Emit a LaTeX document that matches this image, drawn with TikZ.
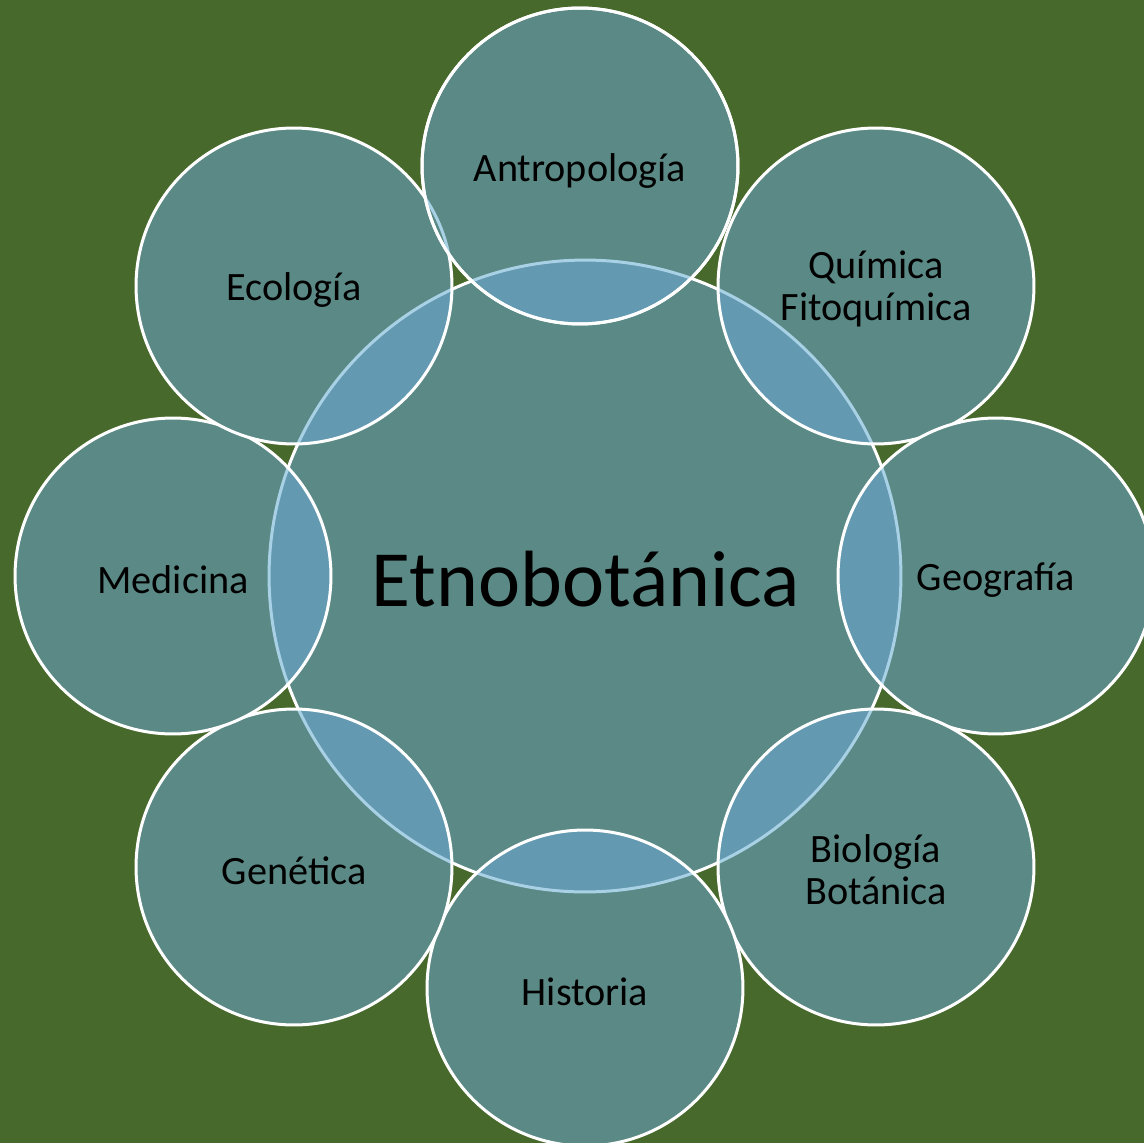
\documentclass[tikz,border=0pt]{standalone}
\usepackage{fontspec}
\setmainfont{Carlito}
\definecolor{bggreen}{HTML}{48692C}
\definecolor{cteal}{HTML}{5B8A86}
\definecolor{ovl}{HTML}{6399B1}
\definecolor{ovledge}{HTML}{A9D1E6}
\begin{document}
\begin{tikzpicture}[x=0.02cm,y=-0.02cm,
  ring/.style={draw=white,line width=0.06cm},
  lbl/.style={text=black,align=center,font=\fontsize{22.9}{24}\selectfont,inner sep=0pt},
  biglbl/.style={text=black,font=\fontsize{45.4}{48}\selectfont,inner sep=0pt}]
\useasboundingbox (0,0) rectangle (1144,1143);
\fill[bggreen] (0,0) rectangle (1144,1143);
\def\R{6.32cm}
\def\r{3.16cm}
\coordinate (C) at (585,576);
\coordinate (anthro) at (580,166);
\coordinate (quim) at (876,286);
\coordinate (geo) at (996,576);
\coordinate (bio) at (876,867);
\coordinate (hist) at (585,988);
\coordinate (gen) at (294,867);
\coordinate (med) at (173,576);
\coordinate (eco) at (294,286);
% centre circle
\fill[cteal] (C) circle[radius=\R];
\draw[ring] (C) circle[radius=\R];
% small circles
\foreach \c in {quim,geo,bio,hist,gen,med,eco,anthro}{
  \fill[cteal] (\c) circle[radius=\r];
  \begin{scope}
    \clip (\c) circle[radius=\r];
    \fill[ovl] (C) circle[radius=\R];
    \draw[draw=ovledge,line width=0.06cm] (C) circle[radius=\R];
  \end{scope}
  \draw[ring] (\c) circle[radius=\r];
}
% Ecología border seen through Antropología
\begin{scope}
  \clip (anthro) circle[radius=\r];
  \draw[draw=ovledge,line width=0.06cm] (eco) circle[radius=\r];
\end{scope}
\draw[ring] (anthro) circle[radius=\r];
% labels
\node[biglbl] (tC) at (586,579) {Etnobotánica};
\node[lbl] (tanthro) at (580,171) {Antropología};
\node[lbl] (tquim) at (876,289) {Química\\Fitoquímica};
\node[lbl] (tgeo) at (996,580) {Geografía};
\node[lbl] (tbio) at (876,870) {Biología\\Botánica};
\node[lbl] (thist) at (585,992) {Historia};
\node[lbl] (tgen) at (294,871) {Genética};
\node[lbl] (tmed) at (173,580) {Medicina};
\node[lbl] (teco) at (294,290) {Ecología};
\end{tikzpicture}
\end{document}
